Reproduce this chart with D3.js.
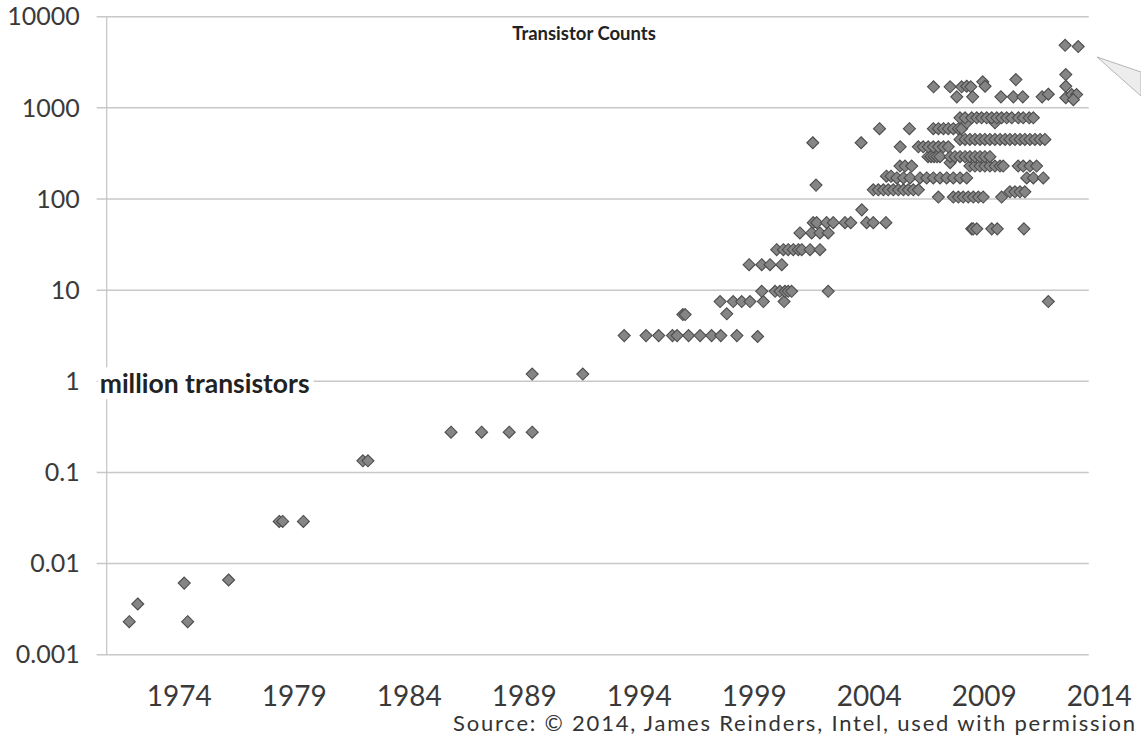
<!DOCTYPE html>
<html lang="en">
<head>
  <meta charset="UTF-8">
  <title>Transistor Counts</title>
  <style>
    body {
      margin: 0;
      padding: 0;
      background-color: #fff;
    }
    svg {
      display: block;
      font-family: Lato, "Open Sans", sans-serif;
    }
    .grid line {
      stroke: #c8c8c8;
      stroke-width: 1.5;
    }
    .tick-label {
      fill: #3a3a3a;
    }
  </style>
</head>
<body>
  <script src="https://cdn.jsdelivr.net/npm/d3@7"></script>
  <div id="chart"></div>
  <script>
    // values: [year, millions of transistors]
    var early70s = [[1971.98, 0.0023], [1972.35, 0.0036], [1974.37, 0.0061], [1974.52, 0.0023], [1976.3, 0.0066],
      [1978.5, 0.029], [1978.65, 0.029], [1979.55, 0.029], [1982.14, 0.134], [1982.36, 0.134]];

    var late80s = [[1985.97, 0.276], [1987.3, 0.276], [1988.5, 0.276], [1989.5, 0.276], [1989.5, 1.2], [1991.7, 1.2]];

    var nineties = [[1993.5, 3.17], [1994.45, 3.17], [1995.0, 3.17], [1995.6, 3.17], [1995.8, 3.17], [1996.3, 3.17],
      [1996.8, 3.17], [1997.3, 3.17], [1997.7, 3.17], [1998.4, 3.17], [1999.3, 3.1],
      [1996.05, 5.4], [1996.15, 5.4], [1997.96, 5.5],
      [1997.67, 7.5], [1998.24, 7.5], [1998.61, 7.5], [1998.97, 7.5], [1999.55, 7.5], [2000.45, 7.5],
      [1998.93, 19], [1999.48, 19], [1999.84, 19], [2000.35, 19],
      [1999.48, 9.7], [2000.06, 9.7], [2000.27, 9.7], [2000.49, 9.7], [2000.63, 9.7], [2000.78, 9.7]];

    var early2000s = [[2002.37, 9.7], [2011.94, 7.5],
      [2000.13, 27.8], [2000.42, 27.8], [2000.63, 27.8], [2000.85, 27.8], [2001.07, 27.8], [2001.22, 27.8], [2001.58, 27.8], [2002.01, 27.8],
      [2001.14, 42.4], [2001.65, 42.4], [2002.01, 42.4], [2002.37, 42.4],
      [2001.72, 55], [2001.87, 55], [2002.3, 55], [2002.59, 55], [2003.1, 55], [2003.35, 55], [2004.04, 55], [2004.33, 55], [2004.88, 55],
      [2001.84, 142], [2003.83, 76], [2001.7, 414], [2003.8, 414], [2004.6, 590], [2005.9, 590], [2005.5, 374]];

    var clusterLow = [
      [2004.33, 126], [2004.55, 126], [2004.77, 126], [2004.98, 126], [2005.2, 126], [2005.42, 126], [2005.64, 126], [2005.85, 126], [2006.07, 126], [2006.29, 126],
      [2010.27, 120], [2010.49, 120], [2010.71, 120], [2010.92, 120],
      [2007.16, 105], [2007.81, 105], [2008.03, 105], [2008.24, 105], [2008.46, 105], [2008.68, 105], [2008.9, 105], [2009.11, 105], [2009.91, 105],
      [2008.61, 47], [2008.67, 47], [2008.83, 47], [2009.48, 47], [2009.72, 47], [2010.88, 47]];

    var clusterMid = [
      [2004.9, 178], [2005.1, 178], [2005.35, 170], [2005.64, 170], [2005.93, 170], [2006.36, 170], [2006.65, 170], [2006.94, 170], [2007.23, 170],
      [2007.52, 170], [2007.81, 170], [2008.1, 170], [2008.39, 170], [2011.0, 170], [2011.29, 170], [2011.72, 170],
      [2005.49, 230], [2005.71, 230], [2006.0, 230], [2008.53, 230], [2008.75, 230], [2008.97, 230], [2009.18, 230], [2009.4, 230],
      [2009.62, 230], [2009.84, 230], [2009.98, 230], [2010.63, 230], [2010.85, 230], [2011.14, 230], [2011.43, 230],
      [2007.67, 250],
      [2006.71, 291], [2006.84, 291], [2006.97, 291], [2007.1, 291], [2007.23, 291], [2007.67, 291], [2007.88, 291], [2008.1, 291],
      [2008.32, 291], [2008.53, 291], [2008.75, 291], [2008.97, 291], [2009.18, 291], [2009.4, 291],
      [2006.29, 374], [2006.5, 374], [2006.72, 374], [2006.94, 374], [2007.16, 374], [2007.38, 374], [2007.59, 374]];

    var clusterHigh = [
      [2008.1, 450], [2008.32, 450], [2008.53, 450], [2008.75, 450], [2008.97, 450], [2009.18, 450], [2009.4, 450], [2009.62, 450], [2009.84, 450],
      [2010.06, 450], [2010.27, 450], [2010.49, 450], [2010.71, 450], [2010.92, 450], [2011.14, 450], [2011.36, 450], [2011.58, 450], [2011.79, 450],
      [2006.94, 590], [2007.16, 590], [2007.38, 590], [2007.59, 590], [2007.81, 590], [2008.03, 590], [2008.17, 590],
      [2008.39, 685], [2009.62, 685],
      [2008.1, 777], [2008.32, 777], [2008.61, 777], [2008.83, 777], [2009.04, 777], [2009.26, 777], [2009.48, 777], [2009.7, 777],
      [2009.91, 777], [2010.13, 777], [2010.35, 777], [2010.64, 777], [2010.85, 777], [2011.11, 777], [2011.29, 777]];

    var overThousand = [[2006.95, 1700], [2007.67, 1700], [2007.96, 1320], [2008.17, 1700], [2008.39, 1725], [2008.57, 1700],
      [2008.65, 1320], [2009.09, 1930], [2009.19, 1725], [2009.88, 1320], [2010.53, 2040], [2010.42, 1320], [2010.83, 1320],
      [2011.67, 1320], [2011.94, 1410], [2012.7, 2320], [2012.7, 1725], [2012.7, 1290], [2012.96, 1400], [2013.17, 1400],
      [2013.03, 1230], [2012.67, 4850], [2013.24, 4700]];

    var yTicks = [0.001, 0.01, 0.1, 1, 10, 100, 1000, 10000];
    var yLabels = ["0.001", "0.01", "0.1", "1", "10", "100", "1000", "10000"];
    var xTicks = [1974, 1979, 1984, 1989, 1994, 1999, 2004, 2009, 2014];

    var allPoints = [].concat(early70s, late80s, nineties, early2000s, clusterLow, clusterMid, clusterHigh, overThousand);

    var width = 1141, height = 738;
    var svg = d3.select("#chart").append("svg")
      .attr("width", width)
      .attr("height", height);

    var x = d3.scaleLinear().domain([1971, 2014]).range([106.7, 1095.7]);
    var y = d3.scaleLog().domain([0.001, 10000]).range([654.7, 16.7]);
    var gridEnd = x(2013.7);

    // horizontal gridlines (with the little tick to the left of the axis)
    svg.append("g").attr("class", "grid")
      .selectAll("line")
      .data(yTicks)
      .enter()
      .append("line")
      .attr("x1", x(1971) - 10)
      .attr("x2", gridEnd)
      .attr("y1", d => y(d))
      .attr("y2", d => y(d));

    // vertical axis line
    svg.append("line")
      .attr("x1", x(1971)).attr("x2", x(1971))
      .attr("y1", y(10000)).attr("y2", y(0.001))
      .attr("stroke", "#c4c4c4")
      .attr("stroke-width", 1.2);

    // y labels
    svg.append("g")
      .selectAll("text")
      .data(yTicks)
      .enter()
      .append("text")
      .attr("class", "tick-label")
      .attr("x", x(1971) - 27)
      .attr("y", d => y(d))
      .attr("dy", "0.35em")
      .attr("text-anchor", "end")
      .style("font-size", "25px")
      .text((d, i) => yLabels[i]);

    // x labels
    var xAxis = d3.axisBottom(x).tickValues(xTicks).tickSize(0).tickFormat(d3.format("d"));
    var gx = svg.append("g")
      .attr("transform", "translate(0," + (y(0.001) + 28) + ")")
      .call(xAxis);
    gx.select(".domain").remove();
    gx.selectAll("text")
      .attr("class", "tick-label")
      .attr("dy", "0.71em")
      .attr("x", 3)
      .style("font-family", "Lato, sans-serif")
      .style("font-size", "28px");

    // "million transistors" label on a white box over the 1 gridline
    var unitG = svg.append("g");
    var unitBox = unitG.append("rect").attr("fill", "#fff");
    var unitLabel = unitG.append("text")
      .attr("x", x(1971) - 7)
      .attr("y", y(1) + 12)
      .style("font-size", "26.5px")
      .style("font-weight", "bold")
      .attr("fill", "#222")
      .text("million transistors");
    var bb = unitLabel.node().getBBox();
    unitBox
      .attr("x", bb.x - 2)
      .attr("y", bb.y)
      .attr("width", bb.width + 6)
      .attr("height", bb.height);

    // data points: grey diamonds
    var diamond = "M0,-6L6,0L0,6L-6,0Z";
    svg.append("g")
      .selectAll("path")
      .data(allPoints)
      .enter()
      .append("path")
      .attr("d", diamond)
      .attr("transform", d => "translate(" + x(d[0]) + "," + y(d[1]) + ")")
      .attr("fill", "#858585")
      .attr("stroke", "#4d4d4d")
      .attr("stroke-width", 1.1);

    // title
    svg.append("text")
      .attr("x", 584)
      .attr("y", 40)
      .attr("text-anchor", "middle")
      .style("font-size", "18.5px")
      .style("font-weight", "bold")
      .attr("fill", "#222")
      .text("Transistor Counts");

    // source note
    svg.append("text")
      .attr("x", 453)
      .attr("y", 731)
      .attr("textLength", 682)
      .attr("lengthAdjust", "spacing")
      .style("font-size", "22px")
      .attr("fill", "#333")
      .text("Source: \u00a9 2014, James Reinders, Intel, used with permission");

    // callout pointer at the top right edge
    svg.append("polygon")
      .attr("points", "1097,57 1141,72 1141,96")
      .attr("fill", "#ededed")
      .attr("stroke", "#b5b5b5")
      .attr("stroke-width", 1);
  </script>
</body>
</html>
